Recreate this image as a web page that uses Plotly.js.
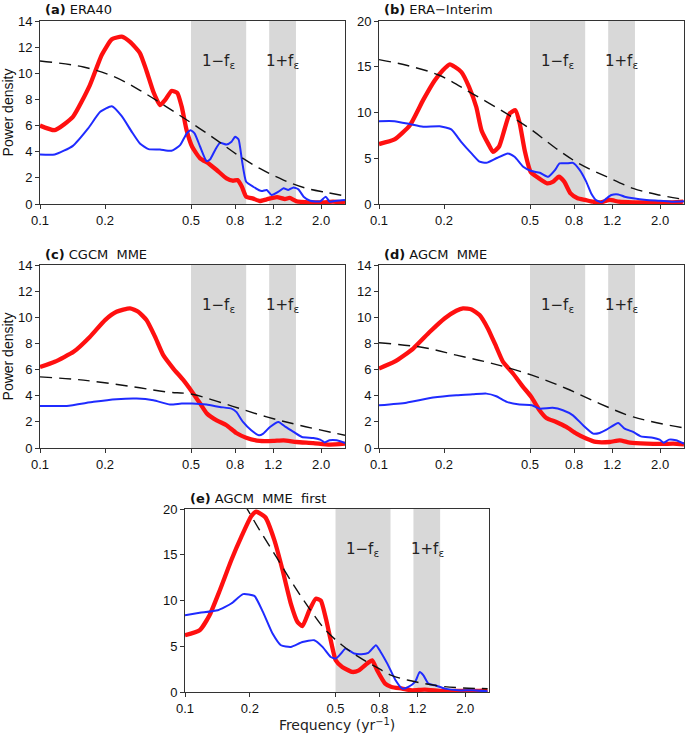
<!DOCTYPE html>
<html>
<head>
<meta charset="utf-8">
<script src="https://cdn.plot.ly/plotly-3.0.1.min.js"></script>
<style>
  html, body { margin: 0; padding: 0; background: #fff; }
  #chart { width: 685px; height: 734px; }
</style>
</head>
<body>
<div id="chart"></div>
<script>
// --- data (frequency in yr^-1, power density) ---

// (a) ERA40
const fRedA = [0.1,0.117,0.142,0.170,0.193,0.215,0.239,0.261,0.290,0.311,0.335,0.359,0.381,0.406,0.432,0.453,0.477,0.506,0.551,0.603,0.657,0.73,0.78,0.82,0.86,0.90,0.97,1.04,1.12,1.25,1.36,1.43,1.54,1.78,2.05,2.27,2.58];
const redA  = [6.0,5.65,6.67,9.08,11.4,12.6,12.8,12.4,11.55,10.2,8.57,7.56,8.0,8.65,8.5,7.43,5.65,4.38,3.49,3.1,2.6,1.96,1.78,1.83,1.32,0.56,0.41,0.23,0.36,0.53,0.38,0.46,0.2,0.13,0.13,0.18,0.1];
const fBlueA = [0.1,0.117,0.142,0.167,0.190,0.215,0.239,0.266,0.290,0.318,0.359,0.406,0.445,0.477,0.498,0.52,0.551,0.59,0.612,0.646,0.68,0.73,0.77,0.80,0.83,0.86,0.90,0.97,1.06,1.12,1.18,1.27,1.34,1.41,1.49,1.57,1.66,1.78,1.98,2.1,2.19,2.36,2.58];
const blueA  = [3.79,3.79,4.45,5.78,7.05,7.48,6.72,5.52,4.63,4.2,4.17,4.07,4.5,5.39,5.65,5.39,4.38,3.28,3.4,4.12,4.68,4.55,4.76,5.14,4.94,3.36,1.7,1.32,0.99,1.07,0.69,0.94,1.2,1.07,1.27,1.12,0.56,0.25,0.2,0.56,0.18,0.25,0.3];
const fDashA = [0.1,0.159,0.218,0.29,0.385,0.506,0.657,0.81,1.04,1.34,1.71,2.14,2.58];
const dashA  = [10.94,10.48,9.77,8.7,7.43,6.16,4.89,3.82,2.72,1.83,1.2,0.87,0.61];

// (b) ERA-Interim
const fRedB = [0.1,0.118,0.139,0.16,0.181,0.197,0.213,0.224,0.241,0.261,0.282,0.298,0.32,0.337,0.359,0.382,0.403,0.428,0.448,0.472,0.503,0.55,0.6,0.64,0.68,0.72,0.77,0.83,0.90,0.976,1.06,1.17,1.29,1.49,1.85,2.29,2.56];
const redB  = [6.55,7.05,8.6,11.35,13.5,14.6,15.27,15.0,14.4,12.8,10.6,8.07,6.6,5.7,6.25,8.25,9.9,10.25,8.8,5.9,3.53,2.8,2.25,2.44,2.98,2.44,1.16,0.62,0.44,0.25,0.18,0.44,0.25,0.18,0.18,0.18,0.25];
const fBlueB = [0.1,0.118,0.139,0.160,0.191,0.216,0.240,0.268,0.292,0.314,0.349,0.395,0.424,0.465,0.507,0.555,0.607,0.652,0.685,0.736,0.79,0.85,0.91,0.96,1.01,1.07,1.13,1.19,1.28,1.37,1.50,1.73,1.99,2.29,2.58];
const blueB  = [9.05,9.05,8.73,8.44,8.5,8.15,6.8,5.53,4.62,4.5,5.0,5.53,5.16,4.07,3.6,3.42,2.98,3.7,4.44,4.44,4.5,3.7,2.44,1.16,0.44,0.18,0.62,0.98,1.05,0.8,0.62,0.44,0.36,0.25,0.29];
const fDashB = [0.1,0.134,0.19,0.27,0.388,0.51,0.66,0.84,1.13,1.5,1.98,2.56];
const dashB  = [15.78,15.16,14.07,12.07,9.9,8.07,6.07,4.44,2.98,1.71,0.98,0.51];

// (c) CGCM MME
const fRedC = [0.1,0.117,0.143,0.170,0.200,0.226,0.261,0.285,0.311,0.341,0.372,0.414,0.461,0.506,0.551,0.593,0.657,0.73,0.81,0.90,1.04,1.20,1.34,1.54,1.84,2.19,2.58];
const redC  = [6.2,6.6,7.36,8.5,9.79,10.42,10.68,10.42,9.79,8.5,7.1,6.08,5.19,4.29,3.4,2.63,2.12,1.74,1.15,0.79,0.54,0.54,0.59,0.46,0.38,0.26,0.33];
const fBlueC = [0.1,0.133,0.177,0.226,0.28,0.335,0.40,0.453,0.506,0.59,0.68,0.77,0.81,0.87,0.95,1.03,1.08,1.16,1.27,1.37,1.49,1.63,1.84,1.98,2.08,2.19,2.36,2.58];
const blueC  = [3.22,3.22,3.53,3.73,3.78,3.65,3.32,3.4,3.4,3.32,3.14,3.01,2.76,1.99,1.35,0.97,1.1,1.61,1.99,1.61,1.23,0.84,0.77,0.64,0.43,0.59,0.59,0.38];
const fDashC = [0.1,0.159,0.27,0.386,0.506,0.78,1.12,1.59,2.58];
const dashC  = [5.44,5.19,4.68,4.29,4.11,3.19,2.38,1.74,0.97];

// (d) AGCM MME
const fRedD = [0.1,0.118,0.144,0.172,0.201,0.228,0.245,0.268,0.292,0.319,0.349,0.375,0.417,0.464,0.507,0.553,0.595,0.661,0.736,0.82,0.91,1.01,1.17,1.30,1.45,1.73,2.07,2.30,2.58];
const redD  = [6.08,6.6,7.61,8.89,9.91,10.5,10.68,10.6,10.17,9.15,7.74,6.59,5.7,4.68,3.91,2.89,2.3,1.99,1.61,1.1,0.72,0.46,0.46,0.59,0.41,0.33,0.31,0.33,0.28];
const fBlueD = [0.1,0.134,0.178,0.228,0.272,0.314,0.349,0.39,0.447,0.51,0.553,0.636,0.71,0.79,0.88,0.98,1.05,1.13,1.28,1.37,1.5,1.63,1.85,1.99,2.08,2.2,2.37,2.58];
const blueD  = [3.27,3.47,3.86,4.04,4.11,4.16,3.96,3.53,3.32,3.27,3.01,3.07,2.89,2.5,1.74,1.1,1.15,1.4,1.92,1.48,1.23,0.89,0.79,0.64,0.41,0.64,0.59,0.33];
const fDashD = [0.1,0.16,0.228,0.325,0.51,0.736,1.05,1.5,2.58];
const dashD  = [8.05,7.69,7.1,6.52,5.57,4.55,3.4,2.38,1.53];

// (e) AGCM MME first
const fRedE = [0.1,0.117,0.130,0.145,0.164,0.183,0.203,0.214,0.236,0.26,0.284,0.31,0.333,0.351,0.378,0.405,0.427,0.451,0.475,0.501,0.537,0.598,0.642,0.70,0.74,0.78,0.85,0.91,1.02,1.13,1.30,1.56,1.86,2.22,2.54];
const redE  = [6.2,6.75,8.39,11.1,14.4,17.0,19.2,19.7,19.1,16.6,13.3,9.67,7.66,7.2,8.94,10.2,10.0,8.03,5.66,3.47,2.74,2.19,2.37,3.1,3.47,2.37,0.91,0.55,0.37,0.18,0.26,0.11,0.11,0.11,0.18];
const fBlueE = [0.1,0.117,0.142,0.164,0.186,0.21,0.23,0.255,0.279,0.31,0.351,0.398,0.435,0.475,0.501,0.53,0.556,0.61,0.66,0.71,0.77,0.81,0.87,0.95,1.02,1.09,1.17,1.23,1.28,1.35,1.45,1.61,1.86,2.15,2.54];
const blueE  = [8.39,8.65,8.94,9.67,10.7,10.5,8.76,6.39,5.11,4.93,5.47,5.66,4.93,3.83,3.65,4.2,4.74,4.2,4.12,4.27,5.11,4.38,3.1,1.28,0.37,0.55,1.1,2.19,1.82,0.91,0.73,0.37,0.18,0.18,0.07];
const fDashE = [0.188,0.222,0.265,0.316,0.378,0.45,0.537,0.64,0.77,0.91,1.09,1.3,1.56,1.86,2.54];
const dashE  = [20.6,17.7,14.8,11.86,9.12,6.75,5.11,3.83,2.74,1.82,1.28,0.91,0.62,0.47,0.36];

const panelTitles = ['ERA40', 'ERA\u2212Interim', 'CGCM  MME', 'AGCM  MME', 'AGCM  MME  first'];
const panelLetters = ['(a)', '(b)', '(c)', '(d)', '(e)'];
const yMax = [14, 20, 14, 14, 20];
const yStep = [2, 5, 2, 2, 5];
const xTicks = [0.1, 0.2, 0.5, 0.8, 1.2, 2.0];
const xTickText = ['0.1', '0.2', '0.5', '0.8', '1.2', '2.0'];
const bandLow = [0.5, 0.9];    // 1 - f_eps
const bandHigh = [1.15, 1.53]; // 1 + f_eps

const series = [
  [fRedA, redA, fBlueA, blueA, fDashA, dashA],
  [fRedB, redB, fBlueB, blueB, fDashB, dashB],
  [fRedC, redC, fBlueC, blueC, fDashC, dashC],
  [fRedD, redD, fBlueD, blueD, fDashD, dashD],
  [fRedE, redE, fBlueE, blueE, fDashE, dashE]
];

// panel boxes in pixels: [left, right, top, bottom]
const W = 685, H = 734;
const boxes = [
  [40, 345, 21, 204],
  [379, 684, 21, 204],
  [40, 345, 265, 448],
  [379, 684, 265, 448],
  [185, 489, 509, 692]
];

const tickFont = { family: 'Liberation Sans, Arial, sans-serif', size: 13, color: '#111' };
const traces = [];
const layout = {
  width: W, height: H,
  margin: { l: 0, r: 0, t: 0, b: 0 },
  paper_bgcolor: '#fff', plot_bgcolor: 'rgba(0,0,0,0)',
  showlegend: false,
  shapes: [], annotations: []
};

boxes.forEach((b, i) => {
  const n = i + 1;
  const xa = 'xaxis' + (n === 1 ? '' : n), ya = 'yaxis' + (n === 1 ? '' : n);
  const xr = 'x' + (n === 1 ? '' : n), yr = 'y' + (n === 1 ? '' : n);
  const s = series[i];

  traces.push({ x: s[0], y: s[1], xaxis: xr, yaxis: yr, mode: 'lines', type: 'scatter',
    line: { color: '#ff1010', width: 4.3, shape: 'spline', smoothing: 0.5 }, hoverinfo: 'skip' });
  traces.push({ x: s[2], y: s[3], xaxis: xr, yaxis: yr, mode: 'lines', type: 'scatter',
    line: { color: '#1f2bff', width: 2, shape: 'spline', smoothing: 0.5 }, hoverinfo: 'skip' });
  traces.push({ x: s[4], y: s[5], xaxis: xr, yaxis: yr, mode: 'lines', type: 'scatter',
    line: { color: '#111', width: 1.4, dash: '12px,7px', shape: 'spline' }, hoverinfo: 'skip' });

  layout[xa] = {
    domain: [b[0] / W, b[1] / W], anchor: yr, type: 'log',
    range: [-1, Math.log10(2.58)],
    tickvals: xTicks, ticktext: xTickText, tickfont: tickFont,
    ticks: 'outside', ticklen: 4, tickcolor: '#333',
    showline: true, mirror: true, linecolor: '#333', linewidth: 1,
    showgrid: false, zeroline: false
  };
  layout[ya] = {
    domain: [1 - b[3] / H, 1 - b[2] / H], anchor: xr,
    range: [0, yMax[i]], dtick: yStep[i], tick0: 0, tickfont: tickFont,
    ticks: 'outside', ticklen: 4, tickcolor: '#333',
    showline: true, mirror: true, linecolor: '#333', linewidth: 1,
    showgrid: false, zeroline: false
  };
  if (i === 0 || i === 2) {
    layout[ya].title = { text: 'Power density', standoff: 6,
      font: { family: 'Liberation Sans, Arial, sans-serif', size: 14, color: '#111' } };
  }
  if (i === 4) {
    layout[xa].title = { text: 'Frequency (yr<sup>\u22121</sup>)', standoff: 4,
      font: { family: 'DejaVu Sans, sans-serif', size: 14, color: '#222' } };
  }

  [bandLow, bandHigh].forEach(band => {
    layout.shapes.push({ type: 'rect', xref: xr, yref: yr + ' domain', x0: band[0], x1: band[1], y0: 0, y1: 1,
      fillcolor: '#d8d8d8', line: { width: 0 }, layer: 'below' });
  });

  const bandFont = { family: 'DejaVu Sans, sans-serif', size: 15, color: '#222' };
  layout.annotations.push({ xref: xr, yref: yr + ' domain', x: Math.log10(0.67), y: 0.84,
    text: '1\u2212f<sub>\u03b5</sub>', showarrow: false, font: bandFont });
  layout.annotations.push({ xref: xr, yref: yr + ' domain', x: Math.log10(1.33), y: 0.84,
    text: '1+f<sub>\u03b5</sub>', showarrow: false, font: bandFont });

  layout.annotations.push({ xref: 'paper', yref: 'paper',
    x: (b[0] + 3) / W, y: 1 - (b[2] - 11) / H, xanchor: 'left', yanchor: 'middle',
    text: '<b>' + panelLetters[i] + '</b> ' + panelTitles[i], showarrow: false,
    font: { family: 'DejaVu Sans, sans-serif', size: 13, color: '#111' } });
});

Plotly.newPlot('chart', traces, layout, { staticPlot: true });
</script>
</body>
</html>
